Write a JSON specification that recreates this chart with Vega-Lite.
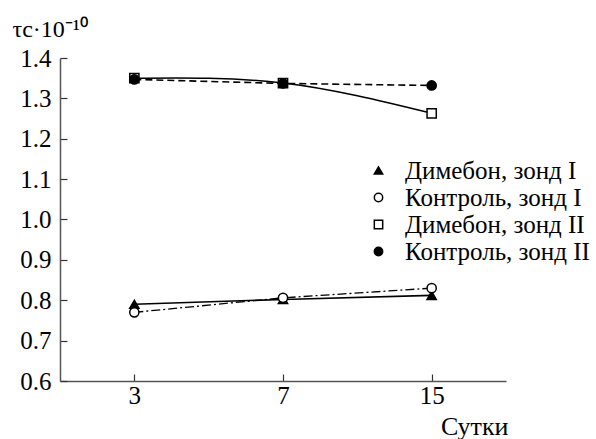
{
  "$schema": "https://vega.github.io/schema/vega-lite/v6.json",
  "autosize": "none",
  "padding": {"left": 60, "top": 58, "right": 90, "bottom": 58},
  "width": 446,
  "height": 323,
  "background": "white",
  "config": {
    "view": {"stroke": null},
    "font": "Liberation Serif",
    "axis": {"grid": false, "domainColor": "#555", "domainWidth": 1.5, "tickColor": "#333", "tickWidth": 1.2, "labelColor": "black", "titleColor": "black", "labelFont": "Liberation Serif", "titleFont": "Liberation Serif", "labelFontSize": 25, "titleFontSize": 26, "titleFontWeight": "normal"},
    "legend": {"labelFont": "Liberation Serif", "labelFontSize": 25, "labelColor": "black", "labelLimit": 0}
  },
  "data": {
    "values": [
      {"series": "Димебон, зонд I", "day": "3", "value": 0.79},
      {"series": "Димебон, зонд I", "day": "7", "value": 0.802},
      {"series": "Димебон, зонд I", "day": "15", "value": 0.812},
      {"series": "Контроль, зонд I", "day": "3", "value": 0.77},
      {"series": "Контроль, зонд I", "day": "7", "value": 0.806},
      {"series": "Контроль, зонд I", "day": "15", "value": 0.83},
      {"series": "Димебон, зонд II", "day": "3", "value": 1.35},
      {"series": "Димебон, зонд II", "day": "7", "value": 1.338},
      {"series": "Димебон, зонд II", "day": "15", "value": 1.263},
      {"series": "Контроль, зонд II", "day": "3", "value": 1.347},
      {"series": "Контроль, зонд II", "day": "7", "value": 1.337},
      {"series": "Контроль, зонд II", "day": "15", "value": 1.332}
    ]
  },
  "encoding": {
    "x": {"field": "day", "type": "ordinal", "sort": ["3", "7", "15"],
      "scale": {"type": "point", "padding": 0.5},
      "axis": {"labelAngle": 0, "tickSize": -7, "labelPadding": 9, "labelFont": "Liberation Serif", "labelFontSize": 25, "title": "Сутки", "titleFont": "Liberation Serif", "titleFontSize": 26, "titleAnchor": "end", "titleAlign": "right", "titleX": 448, "titleY": 53, "titleBaseline": "alphabetic"}},
    "y": {"field": "value", "type": "quantitative",
      "scale": {"domain": [0.6, 1.4], "nice": false, "zero": false},
      "axis": {"values": [0.6, 0.7, 0.8, 0.9, 1.0, 1.1, 1.2, 1.3, 1.4], "format": ".1f", "tickSize": -7, "labelPadding": 16, "labelFont": "Liberation Serif", "labelFontSize": 25, "title": "τc·10⁻¹⁰", "titleFont": "Liberation Serif", "titleFontSize": 24, "titleAngle": 0, "titleAlign": "left", "titleBaseline": "alphabetic", "titleX": -48, "titleY": -22}}
  },
  "layer": [
    {"transform": [{"filter": "datum.series === 'Контроль, зонд II'"}],
     "mark": {"type": "line", "color": "black", "strokeWidth": 1.6, "strokeDash": [7, 4]}},
    {"transform": [{"filter": "datum.series === 'Димебон, зонд II'"}],
     "mark": {"type": "line", "color": "black", "strokeWidth": 1.6, "interpolate": "natural"}},
    {"transform": [{"filter": "datum.series === 'Димебон, зонд I'"}],
     "mark": {"type": "line", "color": "black", "strokeWidth": 1.6}},
    {"transform": [{"filter": "datum.series === 'Контроль, зонд I'"}],
     "mark": {"type": "line", "color": "black", "strokeWidth": 1.3, "strokeDash": [9, 3, 2, 3]}},
    {"mark": {"type": "point", "strokeWidth": 1.5, "opacity": 1, "filled": false},
     "encoding": {
       "shape": {"field": "series", "type": "nominal",
         "scale": {"domain": ["Димебон, зонд I", "Контроль, зонд I", "Димебон, зонд II", "Контроль, зонд II"], "range": ["triangle-up", "circle", "square", "circle"]},
         "legend": {"title": null, "orient": "none", "legendX": 306, "legendY": 100, "symbolSize": 70, "symbolStrokeWidth": 1.5, "symbolOpacity": 1, "rowPadding": 1, "labelOffset": 14, "labelLimit": 0}},
       "fill": {"field": "series", "type": "nominal",
         "scale": {"domain": ["Димебон, зонд I", "Контроль, зонд I", "Димебон, зонд II", "Контроль, зонд II"], "range": ["black", "white", "white", "black"]},
         "legend": {"title": null, "orient": "none", "legendX": 306, "legendY": 100, "symbolSize": 70, "symbolStrokeWidth": 1.5, "symbolOpacity": 1, "rowPadding": 1, "labelOffset": 14, "labelLimit": 0}},
       "stroke": {"field": "series", "type": "nominal",
         "scale": {"domain": ["Димебон, зонд I", "Контроль, зонд I", "Димебон, зонд II", "Контроль, зонд II"], "range": ["black", "black", "black", "black"]},
         "legend": {"title": null, "orient": "none", "legendX": 306, "legendY": 100, "symbolSize": 70, "symbolStrokeWidth": 1.5, "symbolOpacity": 1, "rowPadding": 1, "labelOffset": 14, "labelLimit": 0}},
       "size": {"value": 85}
     }}
  ]
}
